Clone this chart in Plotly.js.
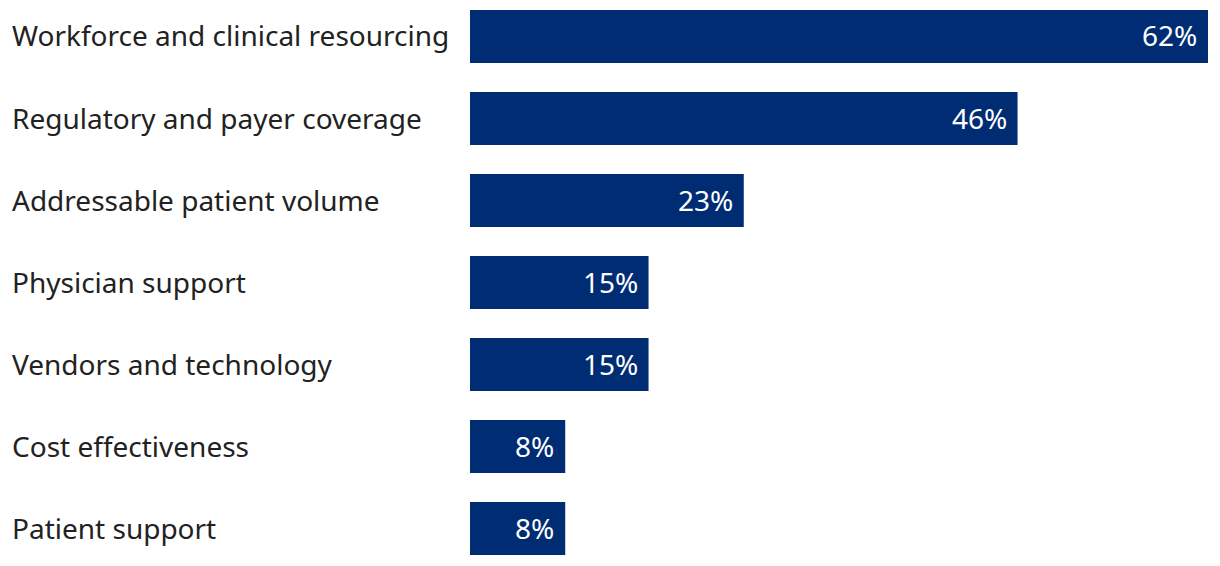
<!DOCTYPE html>
<html>
<head>
<meta charset="utf-8">
<script src="https://cdn.plot.ly/plotly-3.0.1.min.js"></script>
<style>html,body{margin:0;padding:0;background:#fff;}#chart{width:1220px;height:566px;}</style>
</head>
<body>
<div id="chart"></div>
<script>
const categories = [
  "Workforce and clinical resourcing",
  "Regulatory and payer coverage",
  "Addressable patient volume",
  "Physician support",
  "Vendors and technology",
  "Cost effectiveness",
  "Patient support"
];
const values = [62, 46, 23, 15, 15, 8, 8];
const valueLabels = values.map(v => v + "%");

const barColor = "#002c74";
const textColor = "#222222";
const fontFamily = "'Noto Sans', 'Open Sans', sans-serif";

const trace = {
  type: "bar",
  orientation: "h",
  y: categories,
  x: values,
  marker: {color: barColor},
  text: valueLabels,
  textposition: "none",
  hoverinfo: "skip"
};

const annotations = [];
categories.forEach((c, i) => {
  annotations.push({
    xref: "paper", yref: "y", x: -460/750, y: c,
    xanchor: "left", yanchor: "middle", yshift: 1,
    text: c, showarrow: false,
    font: {family: fontFamily, size: 28, color: textColor}
  });
  annotations.push({
    xref: "x", yref: "y", x: values[i], y: c,
    xanchor: "right", yanchor: "middle", xshift: -9, yshift: 1,
    text: valueLabels[i], showarrow: false,
    font: {family: fontFamily, size: 28, color: "#ffffff"}
  });
});

const layout = {
  width: 1220, height: 566,
  margin: {l: 470, r: 0, t: 0, b: 0, pad: 0},
  paper_bgcolor: "#ffffff", plot_bgcolor: "#ffffff",
  bargap: 0.354,
  showlegend: false,
  xaxis: {range: [0, 750/11.903], visible: false, fixedrange: true},
  yaxis: {
    type: "category",
    categoryorder: "array", categoryarray: categories,
    range: [6.457, -0.445],
    showticklabels: false, showgrid: false, zeroline: false, showline: false, ticks: "",
    fixedrange: true
  },
  annotations: annotations
};

Plotly.newPlot("chart", [trace], layout, {displayModeBar: false, staticPlot: true});
</script>
</body>
</html>
